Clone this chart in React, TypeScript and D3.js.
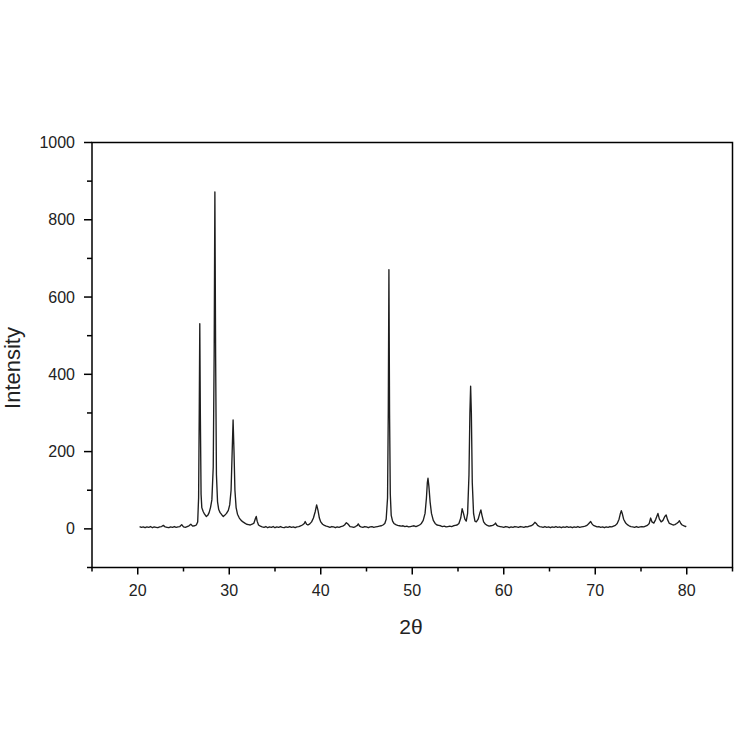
import React from "react";
import * as d3 from "d3";

const twoTheta: number[] = [
  20.2, 20.4, 20.6, 20.8, 21.0, 21.2, 21.4, 21.6, 21.8, 22.0, 22.2, 22.4, 22.6, 22.8, 23.0, 23.2, 23.4, 23.6, 23.8, 24.0,
  24.2, 24.4, 24.6, 24.8, 25.0, 25.2, 25.4, 25.6, 25.8, 26.0, 26.2, 26.4, 26.55, 26.65, 26.72, 26.78, 26.84, 26.92, 27.0, 27.15,
  27.3, 27.5, 27.65, 27.8, 27.95, 28.1, 28.25, 28.35, 28.43, 28.51, 28.6, 28.72, 28.85, 29.0, 29.2, 29.35, 29.5, 29.7, 29.9, 30.05,
  30.2, 30.32, 30.42, 30.52, 30.62, 30.75, 30.9, 31.1, 31.3, 31.5, 31.7, 31.9, 32.1, 32.3, 32.5, 32.7, 32.85, 32.95, 33.05, 33.2,
  33.4, 33.6, 33.8, 34.0, 34.2, 34.4, 34.6, 34.8, 35.0, 35.2, 35.4, 35.6, 35.8, 36.0, 36.2, 36.4, 36.6, 36.8, 37.0, 37.2,
  37.4, 37.6, 37.8, 38.0, 38.2, 38.3, 38.45, 38.6, 38.8, 39.0, 39.2, 39.4, 39.55, 39.7, 39.85, 40.0, 40.2, 40.4, 40.6, 40.8,
  41.0, 41.2, 41.4, 41.6, 41.8, 42.0, 42.2, 42.4, 42.6, 42.8, 43.0, 43.2, 43.4, 43.6, 43.8, 44.0, 44.1, 44.25, 44.4, 44.6,
  44.8, 45.0, 45.2, 45.4, 45.6, 45.8, 46.0, 46.2, 46.4, 46.6, 46.8, 47.0, 47.15, 47.3, 47.38, 47.45, 47.52, 47.6, 47.7, 47.85,
  48.0, 48.2, 48.4, 48.6, 48.8, 49.0, 49.2, 49.4, 49.6, 49.8, 50.0, 50.2, 50.4, 50.6, 50.8, 51.0, 51.2, 51.4, 51.55, 51.65,
  51.72, 51.82, 51.95, 52.1, 52.3, 52.5, 52.7, 52.9, 53.1, 53.3, 53.5, 53.7, 53.9, 54.1, 54.3, 54.5, 54.7, 54.9, 55.1, 55.3,
  55.45, 55.6, 55.75, 55.9, 56.05, 56.2, 56.3, 56.38, 56.46, 56.56, 56.7, 56.85, 57.0, 57.2, 57.4, 57.5, 57.62, 57.8, 58.0, 58.2,
  58.4, 58.6, 58.8, 59.0, 59.1, 59.25, 59.4, 59.6, 59.8, 60.0, 60.2, 60.4, 60.6, 60.8, 61.0, 61.2, 61.4, 61.6, 61.8, 62.0,
  62.2, 62.4, 62.6, 62.8, 63.0, 63.2, 63.4, 63.55, 63.7, 63.9, 64.1, 64.3, 64.5, 64.7, 64.9, 65.1, 65.3, 65.5, 65.7, 65.9,
  66.1, 66.3, 66.5, 66.7, 66.9, 67.1, 67.3, 67.5, 67.7, 67.9, 68.1, 68.3, 68.5, 68.7, 68.9, 69.1, 69.3, 69.5, 69.65, 69.8,
  70.0, 70.2, 70.4, 70.6, 70.8, 71.0, 71.2, 71.4, 71.6, 71.8, 72.0, 72.2, 72.4, 72.6, 72.75, 72.85, 72.95, 73.1, 73.3, 73.5,
  73.7, 73.9, 74.1, 74.3, 74.5, 74.7, 74.9, 75.1, 75.3, 75.5, 75.7, 75.9, 76.05, 76.2, 76.4, 76.6, 76.85, 77.0, 77.2, 77.4,
  77.6, 77.75, 77.9, 78.1, 78.3, 78.5, 78.7, 78.9, 79.1, 79.2, 79.35, 79.5, 79.7, 79.85, 79.95,
];

const intensity: number[] = [
  6, 4, 5, 3, 5, 4, 6, 3, 5, 4, 3, 5, 6, 9, 5, 4, 3, 5, 4, 6,
  4, 5, 6, 11, 5, 4, 6, 8, 12, 7, 8, 10, 18, 80, 300, 531, 300, 90, 55, 45,
  38, 32, 35, 42, 55, 75, 160, 450, 872, 450, 140, 70, 50, 42, 36, 32, 35, 40, 48, 62,
  100, 200, 282, 200, 100, 55, 38, 28, 22, 18, 15, 12, 11, 10, 12, 15, 26, 32, 20, 10,
  7, 5, 4, 6, 3, 5, 4, 6, 3, 5, 4, 6, 4, 3, 5, 4, 6, 4, 5, 3,
  5, 6, 8, 10, 14, 19, 12, 10, 13, 18, 28, 45, 62, 48, 28, 18, 12, 9, 7, 6,
  4, 6, 5, 3, 5, 4, 6, 7, 10, 16, 12, 6, 5, 4, 6, 9, 13, 7, 5, 4,
  6, 5, 3, 5, 6, 4, 5, 6, 7, 8, 10, 14, 25, 80, 300, 671, 300, 90, 35, 20,
  14, 11, 9, 8, 7, 8, 6, 7, 5, 6, 7, 8, 6, 8, 10, 14, 22, 40, 80, 120,
  131, 110, 70, 40, 22, 14, 10, 9, 8, 6, 7, 5, 6, 7, 6, 8, 9, 10, 14, 28,
  52, 40, 25, 20, 40, 140, 300, 369, 300, 120, 40, 20, 18, 25, 42, 49, 35, 18, 12, 9,
  7, 8, 9, 12, 15, 9, 7, 6, 5, 4, 6, 5, 3, 5, 4, 6, 5, 4, 6, 5,
  4, 6, 5, 7, 8, 11, 17, 14, 9, 6, 5, 4, 6, 4, 5, 3, 5, 4, 6, 4,
  5, 3, 5, 4, 6, 4, 5, 3, 5, 4, 6, 4, 5, 6, 7, 9, 14, 19, 13, 9,
  7, 5, 6, 4, 5, 3, 5, 4, 6, 5, 7, 9, 14, 25, 40, 47, 40, 25, 16, 11,
  8, 6, 5, 4, 6, 4, 5, 6, 5, 7, 9, 14, 28, 18, 15, 24, 40, 26, 18, 22,
  32, 36, 24, 14, 12, 10, 11, 14, 18, 21, 14, 10, 8, 6, 7,
];

const xMajorTicks: number[] = [20, 30, 40, 50, 60, 70, 80];
const xMinorTicks: number[] = [15, 25, 35, 45, 55, 65, 75, 85];
const yMajorTicks: number[] = [0, 200, 400, 600, 800, 1000];
const yMinorTicks: number[] = [-100, 100, 300, 500, 700, 900];

const xLabel = "2θ";
const yLabel = "Intensity";

export default function App() {
  const left = 92, right = 732.5, top = 142.5, bottom = 567.5;
  const x = d3.scaleLinear().domain([15, 85]).range([left, right]);
  const y = d3.scaleLinear().domain([-100, 1000]).range([bottom, top]);
  const pts: [number, number][] = twoTheta.map((t, i) => [t, intensity[i]]);
  const line = d3
    .line<[number, number]>()
    .x((d) => x(d[0]))
    .y((d) => y(d[1]));
  const font = "Liberation Sans, Arial, Helvetica, sans-serif";

  return (
    <svg
      width={736}
      height={736}
      style={{ position: "absolute", left: 0, top: 0, background: "#fff" }}
    >
      <rect x={0} y={0} width={736} height={736} fill="#fff" />
      <path d={line(pts) || ""} fill="none" stroke="#1e1e1e" strokeWidth={1.35} strokeLinejoin="round" />
      <rect
        x={left}
        y={top}
        width={right - left}
        height={bottom - top}
        fill="none"
        stroke="#000"
        strokeWidth={1.5}
      />
      {xMajorTicks.map((t) => (
        <g key={"xm" + t}>
          <line x1={x(t)} x2={x(t)} y1={bottom} y2={bottom + 7} stroke="#000" strokeWidth={1.5} />
          <text x={x(t)} y={596} textAnchor="middle" fontFamily={font} fontSize={16} fill="#222">
            {t}
          </text>
        </g>
      ))}
      {xMinorTicks.map((t) => (
        <line key={"xn" + t} x1={x(t)} x2={x(t)} y1={bottom} y2={bottom + 4} stroke="#000" strokeWidth={1.5} />
      ))}
      {yMajorTicks.map((t) => (
        <g key={"ym" + t}>
          <line x1={left - 8} x2={left} y1={y(t)} y2={y(t)} stroke="#000" strokeWidth={1.5} />
          <text
            x={left - 17}
            y={y(t) + 5.5}
            textAnchor="end"
            fontFamily={font}
            fontSize={16}
            fill="#222"
          >
            {t}
          </text>
        </g>
      ))}
      {yMinorTicks.map((t) => (
        <line key={"yn" + t} x1={left - 5} x2={left} y1={y(t)} y2={y(t)} stroke="#000" strokeWidth={1.5} />
      ))}
      <text
        x={411}
        y={634}
        textAnchor="middle"
        fontFamily={font}
        fontSize={21}
        fill="#222"
      >
        {xLabel}
      </text>
      <text
        transform={`translate(20, 368) rotate(-90)`}
        textAnchor="middle"
        fontFamily={font}
        fontSize={22}
        fill="#222"
      >
        {yLabel}
      </text>
    </svg>
  );
}
